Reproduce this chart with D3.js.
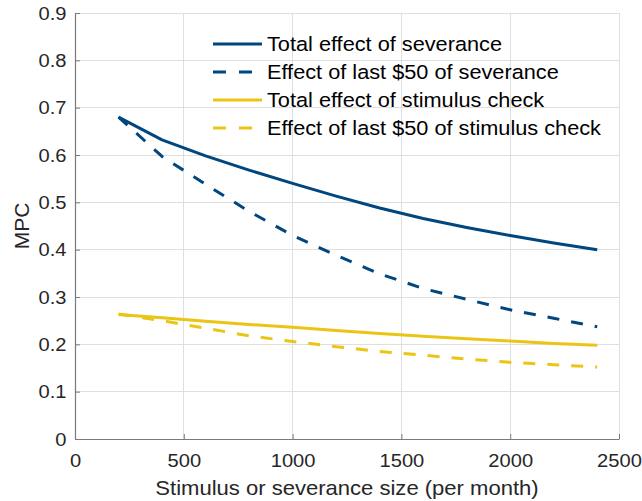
<!DOCTYPE html>
<html>
<head>
<meta charset="utf-8">
<script src="https://cdn.jsdelivr.net/npm/d3@7"></script>
<style>
html,body{margin:0;padding:0;background:#fff;}
svg{display:block;font-family:"Liberation Sans",Arial,Helvetica,sans-serif;}
</style>
</head>
<body>
<svg id="chart" width="642" height="501"></svg>
<script>
const sizes = [200, 400, 600, 800, 1000, 1200, 1400, 1600, 1800, 2000, 2200, 2400];
const severanceTotal = [0.680, 0.632, 0.598, 0.568, 0.540, 0.513, 0.488, 0.466, 0.447, 0.430, 0.414, 0.400];
const severanceLast50 = [0.680, 0.597, 0.538, 0.481, 0.430, 0.388, 0.349, 0.318, 0.295, 0.273, 0.255, 0.237];
const stimulusTotal = [0.263, 0.256, 0.249, 0.242, 0.236, 0.229, 0.223, 0.217, 0.212, 0.207, 0.202, 0.198];
const stimulusLast50 = [0.264, 0.250, 0.234, 0.218, 0.206, 0.195, 0.185, 0.177, 0.169, 0.162, 0.157, 0.152];
const seriesNames = ["Total effect of severance", "Effect of last $50 of severance", "Total effect of stimulus check", "Effect of last $50 of stimulus check"];
const xTicks = [0, 500, 1000, 1500, 2000, 2500];
const yTicks = [0, 0.1, 0.2, 0.3, 0.4, 0.5, 0.6, 0.7, 0.8, 0.9];
const xLabel = "Stimulus or severance size (per month)";
const yLabel = "MPC";

const BLUE = "#00467f", YELLOW = "#ebc515";
const series = [
  {name: seriesNames[0], values: severanceTotal, color: BLUE, dash: null},
  {name: seriesNames[1], values: severanceLast50, color: BLUE, dash: "12,12"},
  {name: seriesNames[2], values: stimulusTotal, color: YELLOW, dash: null},
  {name: seriesNames[3], values: stimulusLast50, color: YELLOW, dash: "12,12"}
];

const svg = d3.select("#chart");
const L = 75, R = 619, T = 13, B = 439;
const x = d3.scaleLinear().domain([0, 2500]).range([L, R]);
const y = d3.scaleLinear().domain([0, 0.9]).range([B, T]);

// grid
const g = svg.append("g");
g.selectAll("line.gx").data(xTicks).join("line")
  .attr("x1", d => x(d)).attr("x2", d => x(d)).attr("y1", T).attr("y2", B)
  .attr("stroke", "#dfdfdf").attr("stroke-width", 1).attr("shape-rendering","crispEdges");
g.selectAll("line.gy").data(yTicks).join("line")
  .attr("x1", L).attr("x2", R).attr("y1", d => y(d)).attr("y2", d => y(d))
  .attr("stroke", "#dfdfdf").attr("stroke-width", 1).attr("shape-rendering","crispEdges");

// axes
const xAxis = d3.axisBottom(x).tickValues(xTicks).tickFormat(d3.format("d")).tickSizeInner(-5).tickSizeOuter(0).tickPadding(15);
const yAxis = d3.axisLeft(y).tickValues(yTicks).tickFormat(d => d === 0 ? "0" : d3.format(".1f")(d)).tickSizeInner(-5).tickSizeOuter(0).tickPadding(8);
const gx = svg.append("g").attr("transform", `translate(0,${B})`).call(xAxis);
const gy = svg.append("g").attr("transform", `translate(${L},0)`).call(yAxis);
[gx, gy].forEach(a => {
  a.select(".domain").attr("stroke", "#7a7a7a").attr("stroke-width", 1.2);
  a.selectAll(".tick line").attr("stroke", "#7a7a7a").attr("stroke-width", 1);
  a.selectAll(".tick text").attr("fill", "#262626").attr("font-size", 19)
   .attr("font-family", "'Liberation Sans',Arial,sans-serif")
   .attr("transform", "scale(1.06,1)");
});
gx.selectAll(".tick text").attr("dy", "0.71em");

// labels
svg.append("text").attr("transform", `translate(${(L + R) / 2},495) scale(1.05,1)`).attr("text-anchor", "middle")
  .attr("font-size", 21).attr("fill", "#262626").text(xLabel);
svg.append("text").attr("transform", `translate(29,${(T + B) / 2}) rotate(-90)`)
  .attr("text-anchor", "middle").attr("font-size", 21).attr("fill", "#262626").text(yLabel);

// lines
const line = d3.line().x((d, i) => x(sizes[i])).y(d => y(d));
svg.append("g").selectAll("path").data(series).join("path")
  .attr("d", d => line(d.values))
  .attr("fill", "none").attr("stroke", d => d.color).attr("stroke-width", 3)
  .attr("stroke-dasharray", d => d.dash).attr("stroke-linejoin", "round");

// legend
const lg = svg.append("g");
const rowsY = [44, 72, 100, 128];
series.forEach((s, i) => {
  lg.append("line").attr("x1", 213).attr("x2", 262).attr("y1", rowsY[i]).attr("y2", rowsY[i])
    .attr("stroke", s.color).attr("stroke-width", 3).attr("stroke-dasharray", s.dash ? "13,13" : null);
  lg.append("text").attr("transform", `translate(267,${rowsY[i]}) scale(1.06,1)`).attr("dy", "0.35em")
    .attr("font-size", 20.5).attr("fill", "#000").text(s.name);
});
</script>
</body>
</html>
